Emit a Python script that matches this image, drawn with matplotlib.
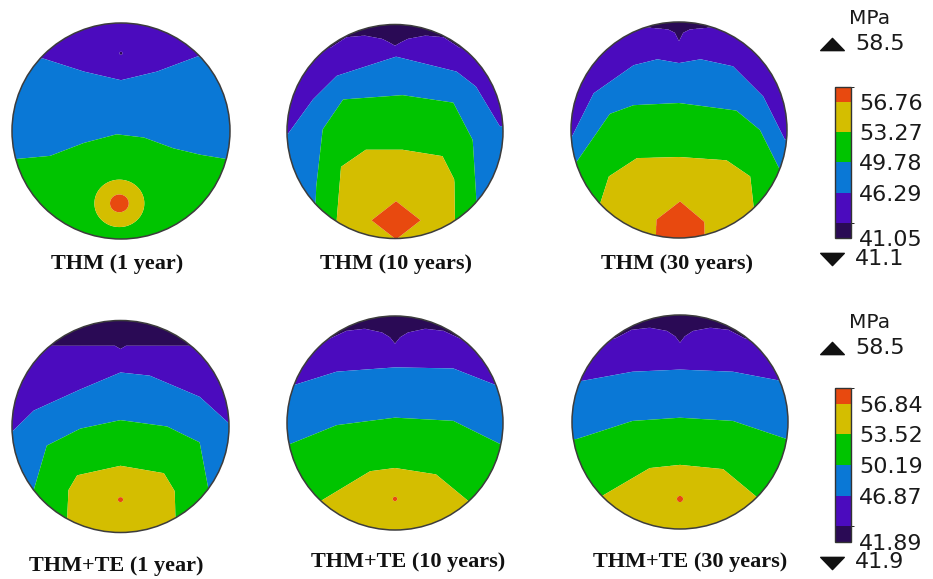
import numpy as np
import matplotlib
matplotlib.use("Agg")
import matplotlib.pyplot as plt
from matplotlib.colors import ListedColormap, BoundaryNorm
from matplotlib.cm import ScalarMappable
from matplotlib.patches import Circle
from matplotlib.path import Path

W, H, DPI = 933, 579, 100

# ---------------------------------------------------------------- data
band_colors = ["#2a0a55", "#4b0bbe", "#0a78d6", "#00c400", "#d4be00", "#e8490f"]

levels_thm = [41.05, 42.80, 46.29, 49.78, 53.27, 56.76, 58.50]
levels_te = [41.89, 43.55, 46.87, 50.19, 53.52, 56.84, 58.50]
ticks_thm = [41.05, 46.29, 49.78, 53.27, 56.76]
ticks_te = [41.89, 46.87, 50.19, 53.52, 56.84]
max_label_thm, min_label_thm = "58.5", "41.1"
max_label_te, min_label_te = "58.5", "41.9"
unit = "MPa"

titles = ["THM (1 year)", "THM (10 years)", "THM (30 years)",
          "THM+TE (1 year)", "THM+TE (10 years)", "THM+TE (30 years)"]

# Iso-stress lines on the unit disc: level -> (x positions, y positions)
iso_thm_1 = {
    46.29: ([-0.71, -0.34, 0.0, 0.33, 0.70], [0.67, 0.55, 0.47, 0.55, 0.69]),
    49.78: ([-0.97, -0.65, -0.34, -0.04, 0.21, 0.48, 0.73, 0.97],
            [-0.26, -0.23, -0.11, -0.03, -0.06, -0.16, -0.22, -0.26]),
}
iso_thm_10 = {
    42.80: ([-0.60, -0.45, -0.28, -0.12, -0.05, 0.0, 0.05, 0.12, 0.28, 0.45, 0.60],
            [0.78, 0.88, 0.895, 0.865, 0.83, 0.80, 0.83, 0.865, 0.895, 0.88, 0.78]),
    46.29: ([-0.99, -0.76, -0.54, 0.01, 0.57, 0.75, 0.97],
            [-0.02, 0.30, 0.52, 0.70, 0.56, 0.42, 0.05]),
    49.78: ([-0.76, -0.73, -0.67, -0.48, 0.07, 0.54, 0.72, 0.75, 0.78],
            [-1.5, -0.52, 0.02, 0.30, 0.34, 0.27, -0.08, -0.58, -1.5]),
    53.27: ([-0.56, -0.54, -0.50, -0.27, 0.07, 0.44, 0.55, 0.555, 0.57],
            [-1.5, -0.83, -0.33, -0.17, -0.17, -0.23, -0.45, -0.86, -1.5]),
}
iso_thm_30 = {
    42.80: ([-0.32, -0.20, -0.10, -0.04, -0.015, 0.0, 0.015, 0.04, 0.10, 0.20, 0.32],
            [0.95, 0.94, 0.93, 0.90, 0.85, 0.82, 0.85, 0.90, 0.93, 0.94, 0.95]),
    46.29: ([-0.99, -0.79, -0.42, -0.20, 0.0, 0.20, 0.50, 0.78, 0.98],
            [-0.06, 0.34, 0.60, 0.655, 0.62, 0.655, 0.59, 0.31, -0.09]),
    49.78: ([-0.98, -0.64, -0.42, 0.0, 0.53, 0.75, 0.95],
            [-0.34, 0.15, 0.23, 0.25, 0.18, 0.0, -0.40]),
    53.27: ([-0.76, -0.73, -0.65, -0.39, 0.0, 0.44, 0.66, 0.69, 0.72],
            [-1.5, -0.68, -0.43, -0.26, -0.25, -0.28, -0.43, -0.70, -1.5]),
    56.76: ([-0.23, -0.21, 0.01, 0.235, 0.25], [-1.5, -0.83, -0.66, -0.85, -1.5]),
}
iso_te_1 = {
    43.55: ([-0.75, -0.05, 0.0, 0.05, 0.75], [0.76, 0.76, 0.73, 0.76, 0.76]),
    46.87: ([-1.0, -0.80, -0.37, 0.0, 0.27, 0.73, 1.0],
            [-0.05, 0.15, 0.35, 0.51, 0.48, 0.28, 0.03]),
    50.19: ([-0.83, -0.80, -0.68, -0.37, 0.0, 0.43, 0.73, 0.81, 0.84],
            [-1.5, -0.60, -0.18, -0.02, 0.06, 0.0, -0.15, -0.59, -1.5]),
    53.52: ([-0.51, -0.49, -0.48, -0.40, 0.0, 0.40, 0.50, 0.505, 0.52],
            [-1.5, -0.83, -0.60, -0.46, -0.37, -0.44, -0.61, -0.81, -1.5]),
}
iso_te_10 = {
    43.55: ([-0.62, -0.45, -0.28, -0.12, -0.047, 0.0, 0.047, 0.12, 0.28, 0.45, 0.62],
            [0.78, 0.86, 0.88, 0.845, 0.80, 0.74, 0.80, 0.845, 0.88, 0.86, 0.78]),
    46.87: ([-0.95, -0.54, 0.0, 0.54, 0.97], [0.35, 0.48, 0.52, 0.51, 0.34]),
    50.19: ([-0.98, -0.54, 0.0, 0.54, 0.98], [-0.20, -0.02, 0.05, 0.02, -0.20]),
    53.52: ([-0.80, -0.69, -0.23, 0.0, 0.38, 0.68, 0.80],
            [-0.85, -0.73, -0.45, -0.42, -0.48, -0.73, -0.85]),
}
iso_te_30 = {
    43.55: ([-0.60, -0.45, -0.28, -0.12, -0.045, 0.0, 0.045, 0.12, 0.28, 0.45, 0.60],
            [0.78, 0.86, 0.88, 0.85, 0.80, 0.74, 0.80, 0.85, 0.88, 0.86, 0.78]),
    46.87: ([-0.93, -0.44, 0.0, 0.49, 0.96], [0.38, 0.47, 0.49, 0.47, 0.38]),
    50.19: ([-0.96, -0.44, 0.0, 0.49, 0.99], [-0.16, 0.01, 0.04, 0.01, -0.16]),
    53.52: ([-0.85, -0.72, -0.28, 0.0, 0.40, 0.71, 0.85],
            [-0.80, -0.69, -0.43, -0.40, -0.44, -0.70, -0.80]),
}

# Local extrema: (x, y, rx, ry, shape exponent, value at centre, value at rim)
spots_thm_1 = [(-0.015, -0.67, 0.24, 0.23, 2, 58.85, 53.0),
               (0.0, 0.72, 0.015, 0.015, 2, 42.0, 42.5)]
spots_thm_10 = [(0.01, -0.83, 0.235, 0.185, 1, 58.5, 56.7)]
spots_thm_30 = []
spots_te_1 = [(0.0, -0.69, 0.025, 0.025, 2, 58.0, 56.9)]
spots_te_10 = [(0.0, -0.71, 0.022, 0.022, 2, 58.0, 56.9)]
spots_te_30 = [(0.0, -0.72, 0.030, 0.030, 2, 58.0, 56.9)]

# ---------------------------------------------------------------- layout (pixels)
panel_centers = [(121, 131), (395, 131.5), (679, 130),
                 (120.5, 426.5), (395, 423), (680, 422)]
panel_radii = [(109, 108), (108, 107), (108, 108),
               (108.5, 106), (108, 107), (108, 107)]
title_pos = [(116.7, 268.5), (395.5, 268.5), (677, 268.5),
             (115.8, 571.5), (408, 567), (690, 567)]


def stress_field(X, Y, levels, iso, spots):
    inner = np.array(levels[1:-1])
    x = X[0]
    listed = sorted(iso)
    rows = []
    for L in inner:
        if L in iso:
            xs, ys = iso[L]
            rows.append(np.interp(x, xs, ys))
        elif L < listed[0]:
            rows.append(np.full_like(x, 1.6))
        else:
            rows.append(np.full_like(x, -1.6))
    hts = np.array(rows)
    for k in range(1, len(hts)):
        hts[k] = np.minimum(hts[k], hts[k - 1] - 1e-3)
    Z = np.empty_like(X)
    yv = Y[:, 0]
    fp = np.concatenate(([levels[-1] + 1.0], inner[::-1], [levels[0] - 0.5]))
    for j in range(len(x)):
        yp = np.concatenate(([-3.0], hts[::-1, j], [3.0]))
        Z[:, j] = np.interp(yv, yp, fp)
    for sx, sy, rx, ry, p, vc, ve in spots:
        d = (np.abs((X - sx) / rx) ** p + np.abs((Y - sy) / ry) ** p) ** (1.0 / p)
        v = vc + (ve - vc) * d
        inside = d <= 1.0
        if vc > ve:
            Z = np.where(inside, np.maximum(Z, v), Z)
        else:
            Z = np.where(inside, np.minimum(Z, v), Z)
    return Z


fig = plt.figure(figsize=(W / DPI, H / DPI), dpi=DPI)
fig.patch.set_facecolor("white")

g = np.linspace(-1.03, 1.03, 701)
X, Y = np.meshgrid(g, g)

panels = [(levels_thm, iso_thm_1, spots_thm_1), (levels_thm, iso_thm_10, spots_thm_10),
          (levels_thm, iso_thm_30, spots_thm_30), (levels_te, iso_te_1, spots_te_1),
          (levels_te, iso_te_10, spots_te_10), (levels_te, iso_te_30, spots_te_30)]

span = 1.03
for (cx, cy), (rx, ry), (levels, iso, spots) in zip(panel_centers, panel_radii, panels):
    ax = fig.add_axes([(cx - span * rx) / W, (H - cy - span * ry) / H,
                       2 * span * rx / W, 2 * span * ry / H])
    ax.set_xlim(-span, span)
    ax.set_ylim(-span, span)
    ax.axis("off")
    Z = stress_field(X, Y, levels, iso, spots)
    bounds = [0.0] + list(levels[1:-1]) + [100.0]
    cs = ax.contourf(X, Y, Z, levels=bounds, colors=band_colors, antialiased=True)
    disc = Circle((0, 0), 1.0, transform=ax.transData)
    cs.set_clip_path(disc)
    ax.add_patch(Circle((0, 0), 1.0, fill=False, ec="#3c3c3c", lw=1.1))

# overlay in pixel coordinates for labels and legend symbols
ov = fig.add_axes([0, 0, 1, 1], zorder=5)
ov.set_xlim(0, W)
ov.set_ylim(H, 0)
ov.axis("off")
ov.patch.set_alpha(0)

for (tx, ty), t in zip(title_pos, titles):
    ov.text(tx, ty, t, ha="center", va="baseline", fontsize=16, fontweight="bold",
            family="Liberation Serif", color="#111111")

up_tri = Path([(-1.0, -0.52), (1.0, -0.52), (0.0, 0.52), (-1.0, -0.52)], closed=True)
down_tri = Path([(-1.0, 0.52), (1.0, 0.52), (0.0, -0.52), (-1.0, 0.52)], closed=True)

cbar_specs = [
    (levels_thm, ticks_thm, max_label_thm, min_label_thm, 87.0, 238.0, 19.0, 44.0, 259.0),
    (levels_te, ticks_te, max_label_te, min_label_te, 388.3, 541.7, 322.0, 347.5, 562.5),
]
txt_kw = dict(family="DejaVu Sans", fontsize=16, color="#1a1a1a")
for levels, ticks, lab_max, lab_min, top, bot, y_unit, y_max, y_min in cbar_specs:
    cax = fig.add_axes([834.5 / W, (H - bot) / H, 16.0 / W, (bot - top) / H])
    norm = BoundaryNorm(levels, len(band_colors))
    sm = ScalarMappable(norm=norm, cmap=ListedColormap(band_colors))
    cb = fig.colorbar(sm, cax=cax, spacing="proportional", ticks=ticks)
    cb.ax.set_yticklabels([f"{t:.2f}" for t in ticks], **txt_kw)
    cb.ax.tick_params(length=0, pad=6)
    cb.outline.set_linewidth(1.0)
    cb.outline.set_edgecolor("#333333")

    ov.text(870, y_unit, unit, ha="center", va="center", family="DejaVu Sans",
            fontsize=14.5, color="#1a1a1a")
    ov.plot([831.5], [y_max], marker=up_tri, markersize=17, color="#111111", ls="none")
    ov.plot([831.5], [y_min], marker=down_tri, markersize=17, color="#111111", ls="none")
    ov.text(855, y_max, lab_max, ha="left", va="center", **txt_kw)
    ov.text(855, y_min, lab_min, ha="left", va="center", **txt_kw)

fig.savefig("out.png", dpi=DPI, facecolor="white")
